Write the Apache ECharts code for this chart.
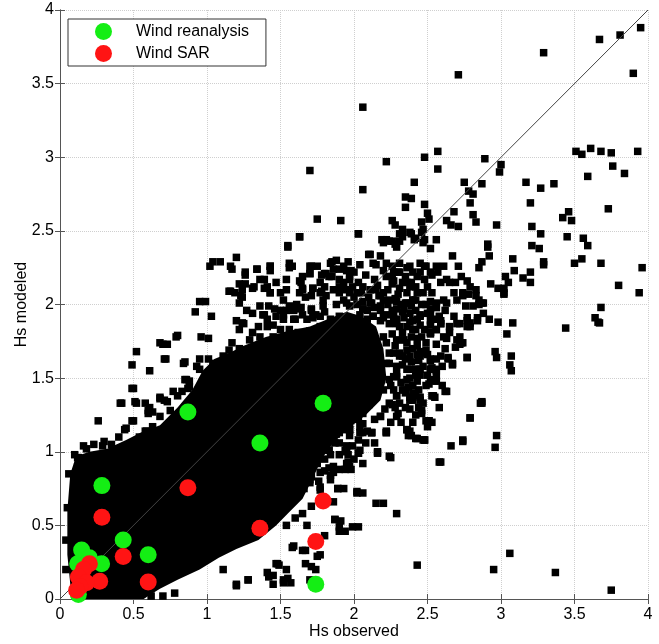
<!DOCTYPE html>
<html>
<head>
<meta charset="utf-8">
<script src="https://cdn.jsdelivr.net/npm/echarts@6/dist/echarts.min.js"></script>
<style>
  html, body { margin: 0; padding: 0; background: #fff; }
  #chart { width: 659px; height: 644px; }
</style>
</head>
<body>
<div id="chart"></div>
<script>
// axis range / ticks (Hs in m)
const axisMin = 0
const axisMax = 4
const tickStep = 0.5

// outline of the solid black core of the point cloud [Hs observed, Hs modeled]
const coreOutline = [
  [0.08, 0.0], [0.05, 0.3], [0.05, 0.6], [0.07, 0.85], [0.11, 0.97], [0.2, 1.0], [0.32, 1.02],
  [0.45, 1.08], [0.55, 1.13], [0.68, 1.18], [0.8, 1.3], [0.9, 1.42], [0.97, 1.55], [1.05, 1.63],
  [1.15, 1.67], [1.25, 1.72], [1.4, 1.78], [1.55, 1.82], [1.7, 1.85], [1.82, 1.9], [1.95, 1.95],
  [2.05, 1.92], [2.15, 1.85], [2.2, 1.7], [2.22, 1.5], [2.18, 1.35], [2.08, 1.25], [1.95, 1.15],
  [1.85, 1.05], [1.78, 0.95], [1.72, 0.82], [1.65, 0.68], [1.55, 0.58], [1.47, 0.5], [1.35, 0.4],
  [1.2, 0.34], [1.08, 0.28], [0.95, 0.2], [0.8, 0.13], [0.68, 0.07], [0.6, 0.02], [0.57, 0.0]
]

// scattered model/obs pairs outside the core
const outerPts = [
  [3.95, 3.88], [3.81, 3.83], [3.67, 3.80], [3.29, 3.71], [3.90, 3.57], [2.71, 3.56], [2.06, 3.34],
  [3.93, 3.04], [3.68, 3.04], [3.75, 3.03], [3.51, 3.04], [3.55, 3.02], [3.61, 3.06], [3.76, 2.94], [3.84, 2.89], [3.59, 2.87],
  [2.57, 3.04], [2.48, 3.00], [2.57, 2.92], [2.89, 2.99], [3.00, 2.95], [2.99, 2.90], [2.22, 2.97], [2.06, 2.78],
  [2.41, 2.83], [2.75, 2.83], [2.87, 2.82], [2.78, 2.77], [2.81, 2.75], [2.79, 2.69],
  [3.17, 2.83], [3.27, 2.79], [3.36, 2.82], [3.20, 2.69], [3.73, 2.65],
  [2.35, 2.73], [2.39, 2.72], [2.35, 2.66], [2.48, 2.68], [1.91, 2.57], [2.03, 2.48], [2.81, 2.61], [2.83, 2.56],
  [2.97, 2.54], [2.68, 2.63], [2.71, 2.53], [2.63, 2.57], [2.66, 2.54],
  [2.50, 2.62], [2.51, 2.58], [2.46, 2.56], [2.47, 2.51], [2.26, 2.57], [2.28, 2.54], [2.31, 2.48], [2.33, 2.51],
  [2.39, 2.48], [2.42, 2.45], [2.48, 2.44], [2.19, 2.44], [2.22, 2.44], [2.26, 2.43], [2.29, 2.39], [2.52, 2.38], [2.91, 2.41],
  [3.21, 2.53], [3.27, 2.48], [3.21, 2.40], [3.26, 2.38], [3.42, 2.59], [3.46, 2.63], [3.48, 2.57], [3.45, 2.46],
  [3.56, 2.45], [3.59, 2.40],
  [3.29, 2.29], [3.29, 2.27], [3.50, 2.28], [3.55, 2.31], [3.68, 2.28], [3.96, 2.25], [3.80, 2.13], [3.94, 2.08],
  [3.68, 1.98], [3.64, 1.91], [3.67, 1.875], [3.44, 1.84], [3.08, 1.875],
  [3.08, 2.31], [3.09, 2.23], [3.15, 2.18], [3.20, 2.22], [3.20, 2.15], [3.03, 2.19], [3.05, 2.15], [3.02, 2.11],
  [3.02, 2.08], [2.92, 2.33], [2.91, 2.39], [2.87, 2.29], [2.85, 2.25],
  [2.98, 1.88], [2.92, 1.90], [2.84, 1.91], [2.79, 1.875],
  [2.11, 2.34], [2.18, 2.33], [2.13, 2.28], [1.96, 2.29], [1.98, 2.23], [1.97, 2.17], [1.99, 2.12], [1.97, 2.08],
  [1.84, 2.28], [1.85, 2.19], [2.06, 2.02], [2.09, 1.96],
  [2.26, 2.26], [2.30, 2.22], [2.27, 2.16], [2.31, 2.11], [2.28, 2.04], [2.32, 2.00], [2.38, 2.12], [2.43, 2.08],
  [2.39, 1.99], [2.45, 1.93],
  [2.48, 2.26], [2.52, 2.22], [2.59, 2.15], [2.53, 2.08], [2.56, 2.01], [2.62, 1.96], [2.52, 1.94], [2.59, 1.89],
  [2.61, 2.26], [2.67, 2.33], [2.71, 2.26], [2.73, 2.19], [2.77, 2.16], [2.79, 2.12], [2.83, 2.10], [2.85, 2.03],
  [2.87, 2.01], [2.65, 2.15], [2.69, 2.15], [2.93, 2.14], [2.98, 2.11], [3.02, 2.07], [2.76, 1.99], [2.77, 1.91],
  [1.88, 2.30], [1.93, 2.26], [1.97, 2.19], [1.90, 2.12], [2.02, 2.08], [1.95, 2.01], [2.06, 1.97], [2.13, 1.92],
  [2.20, 2.03], [2.15, 2.10], [2.22, 2.19], [2.31, 2.28], [2.38, 2.26], [2.43, 2.19], [2.36, 2.15], [2.47, 2.08],
  [2.40, 2.03], [2.34, 1.97], [2.27, 1.90], [2.43, 1.90], [2.52, 1.97], [2.61, 2.03], [2.68, 2.08], [2.63, 2.17],
  [2.56, 2.26], [2.74, 2.08], [2.81, 1.99], [2.88, 1.94], [2.79, 1.85], [2.68, 1.92],
  [2.25, 1.45], [2.27, 1.42], [2.32, 1.47], [2.40, 1.45], [2.42, 1.52], [2.47, 1.58], [2.50, 1.52], [2.35, 1.63],
  [2.40, 1.70], [2.44, 1.62], [2.49, 1.69], [2.28, 1.72], [2.26, 1.80], [2.33, 1.81], [2.38, 1.88], [2.45, 1.86],
  [2.48, 1.83], [2.42, 1.96], [2.33, 1.95], [2.26, 1.96], [2.22, 1.93], [2.18, 1.96], [2.14, 1.98], [2.10, 2.05],
  [2.16, 2.13], [2.23, 2.10], [2.30, 2.07], [2.36, 2.08], [2.42, 2.12], [2.50, 2.12], [2.45, 2.22], [2.35, 2.19],
  [2.26, 2.19], [2.20, 2.23], [2.08, 2.20], [2.05, 2.08], [2.00, 2.05], [1.95, 2.10], [2.30, 1.26], [2.35, 1.30],
  [2.25, 1.20], [2.32, 1.20], [2.42, 1.25], [2.58, 1.30], [2.60, 1.45], [2.60, 1.58], [2.62, 1.70], [2.58, 1.92],
  // lower right
  [3.75, 0.06], [3.37, 0.18], [3.06, 0.31], [2.95, 0.20], [2.43, 0.23], [2.29, 0.58], [2.20, 0.65], [2.06, 0.72],
  [2.03, 0.49], [1.94, 0.46], [1.91, 0.53], [1.93, 0.75], [1.86, 0.66], [1.86, 0.86], [2.58, 0.93], [2.25, 0.96],
  [2.16, 0.99], [2.06, 0.92], [2.04, 1.01], [1.97, 0.90], [1.96, 0.98], [1.94, 1.01], [2.66, 1.04], [2.74, 1.07],
  [2.96, 1.03], [2.97, 1.11], [2.48, 1.08], [2.42, 1.09], [2.37, 1.11], [2.36, 1.15], [2.79, 1.23], [2.51, 1.21],
  [2.87, 1.34], [2.86, 1.33], [2.62, 1.41], [2.55, 1.37], [2.46, 1.28], [2.45, 1.37], [2.40, 1.35], [2.28, 1.30],
  [2.24, 1.33], [2.18, 1.24], [2.22, 1.13], [2.12, 1.13], [2.04, 1.13], [2.03, 1.08], [2.06, 1.19], [1.94, 1.19],
  [3.07, 1.65], [3.06, 1.59], [3.07, 1.55], [2.96, 1.68], [2.97, 1.64], [3.04, 1.80], [3.66, 1.88], [2.77, 1.64],
  [2.64, 1.63], [2.67, 1.60], [2.69, 1.71], [2.70, 1.76], [2.74, 1.74], [2.56, 1.55], [2.52, 1.56], [2.52, 1.49],
  [2.56, 1.48], [2.44, 1.56], [2.46, 1.67], [2.77, 1.89], [2.84, 1.89], [2.37, 1.44], [2.38, 1.37], [2.42, 1.38],
  [1.86, 1.87], [1.95, 1.89], [2.06, 1.87], [2.18, 1.89], [2.29, 1.87], [2.40, 1.89], [2.52, 1.86], [2.59, 1.87],
  [2.65, 1.85], [2.72, 1.87],
  [1.88, 1.76], [1.97, 1.78], [2.09, 1.76], [2.20, 1.78], [2.33, 1.76], [2.43, 1.77], [2.52, 1.81], [2.63, 1.77], [2.72, 1.73],
  [1.90, 1.65], [2.02, 1.67], [2.13, 1.65], [2.24, 1.67], [2.33, 1.65], [2.43, 1.66], [2.52, 1.63], [2.59, 1.65],
  [1.93, 1.53], [2.06, 1.56], [2.18, 1.53], [2.29, 1.51], [2.38, 1.56], [2.45, 1.52],
  [1.90, 1.42], [2.02, 1.44], [2.11, 1.40], [2.20, 1.42], [2.29, 1.38],
  [1.88, 1.31], [1.97, 1.33], [2.06, 1.26], [1.88, 1.17], [1.97, 1.15], [1.87, 1.06], [1.95, 1.04],
  [1.86, 1.22], [1.92, 1.27], [2.00, 1.30], [2.10, 1.32], [2.14, 1.22], [2.08, 1.06], [2.14, 1.06], [2.00, 0.95],
  [1.90, 0.98], [1.88, 1.12], [1.80, 0.95], [1.77, 0.86],
  // upper left
  [1.70, 2.91], [1.75, 2.58], [1.63, 2.46], [1.55, 2.39], [1.04, 2.29], [1.09, 2.29], [1.02, 2.26], [1.20, 2.32],
  [1.16, 2.26], [1.17, 2.24], [1.26, 2.20], [1.34, 2.24], [1.43, 2.26], [1.43, 2.23], [1.56, 2.28], [1.56, 2.25],
  [1.70, 2.26], [1.75, 2.26], [1.70, 2.21], [1.80, 2.21],
  [1.22, 2.14], [1.23, 2.06], [1.15, 2.09], [1.19, 2.08], [1.32, 2.12], [1.39, 2.17], [1.41, 2.12], [1.43, 2.08],
  [1.54, 2.10], [1.64, 2.15], [1.65, 2.10], [1.67, 2.05], [1.72, 2.11], [1.77, 2.08], [1.80, 2.12], [1.79, 2.03],
  [0.92, 1.95], [0.95, 2.02], [0.99, 2.02], [1.03, 1.92], [1.22, 2.01], [1.20, 1.89], [1.24, 1.875],
  [1.38, 1.93], [1.41, 1.90], [1.46, 1.97], [1.52, 1.93], [1.59, 1.96], [1.59, 1.90], [1.63, 1.97], [1.71, 1.96],
  [1.72, 1.91], [1.77, 1.92], [1.80, 1.95],
  [1.24, 2.10], [1.16, 2.09], [0.80, 1.79], [0.70, 1.73], [0.73, 1.73], [0.96, 1.78], [1.01, 1.77], [1.17, 1.74],
  [1.15, 1.69], [1.22, 1.70], [1.27, 1.69], [0.52, 1.68], [0.71, 1.63], [0.49, 1.59], [0.61, 1.55], [0.85, 1.61],
  [0.95, 1.63], [1.01, 1.63], [1.04, 1.60], [0.93, 1.58], [0.95, 1.56], [1.02, 1.53], [1.11, 1.65], [1.16, 1.63],
  [0.85, 1.49], [0.88, 1.48], [0.87, 1.43], [0.50, 1.43], [0.77, 1.41], [0.80, 1.38], [0.68, 1.37], [0.71, 1.35],
  [0.51, 1.34], [0.58, 1.33], [0.61, 1.30], [0.60, 1.26], [0.63, 1.27], [0.42, 1.33], [0.50, 1.21], [0.26, 1.21],
  [0.45, 1.16], [0.59, 1.14], [0.23, 1.05], [0.35, 1.05], [0.125, 0.96], [0.12, 0.90], [0.14, 0.86], [0.72, 1.63],
  [0.79, 1.78], [0.84, 1.60], [0.16, 1.04], [0.30, 1.07], [0.40, 1.10], [0.10, 0.98], [0.05, 0.62], [0.04, 0.40],
  [0.04, 0.20], [0.06, 0.85],
  [0.68, 1.74], [0.86, 1.49], [0.88, 1.44], [0.83, 1.41], [0.49, 1.43], [0.41, 1.33], [0.52, 1.33], [0.60, 1.28],
  [0.68, 1.36], [0.73, 1.34], [0.44, 1.15], [0.49, 1.21], [0.58, 1.14], [0.29, 1.04], [0.39, 1.01], [0.18, 1.02],
  [0.12, 0.96], [0.20, 0.94], [0.54, 1.10], [0.59, 1.06], [0.52, 1.04], [0.45, 1.01], [0.75, 1.28], [0.78, 1.23],
  [0.68, 1.24], [0.63, 1.17],
  // upper fringe of the core
  [1.63, 2.46], [2.03, 2.48], [1.55, 2.40],
  [1.26, 2.22], [1.34, 2.24], [1.43, 2.26], [1.39, 2.11], [1.43, 2.08], [1.26, 2.14], [1.31, 2.11], [1.24, 2.05],
  [1.58, 2.26], [1.71, 2.26], [1.85, 2.29], [1.86, 2.24], [1.70, 2.21], [1.78, 2.20], [1.83, 2.19], [1.90, 2.17],
  [1.95, 2.23], [2.00, 2.22], [2.04, 2.27], [2.10, 2.34], [2.15, 2.27], [2.22, 2.28],
  [2.20, 2.42], [2.24, 2.43], [2.28, 2.41], [2.31, 2.43], [2.33, 2.46], [2.38, 2.49], [2.41, 2.44], [2.46, 2.49],
  [2.47, 2.42], [2.56, 2.44],
  [2.27, 2.22], [2.31, 2.22], [2.36, 2.25], [2.40, 2.22], [2.45, 2.28], [2.49, 2.26], [2.53, 2.20], [2.57, 2.22],
  [2.48, 2.17], [2.39, 2.15], [2.33, 2.15], [2.26, 2.14],
  [1.54, 2.17], [1.63, 2.16], [1.65, 2.11], [1.63, 2.08], [1.72, 2.11], [1.71, 2.06], [1.78, 2.09], [1.81, 2.06],
  [1.86, 2.10], [1.90, 2.08], [2.03, 2.15], [2.06, 2.12], [2.11, 2.10], [2.14, 2.17], [2.17, 2.06], [2.20, 2.08],
  [1.52, 2.03], [1.56, 1.99], [1.54, 1.96], [1.61, 2.00], [1.64, 1.98], [1.65, 1.93], [1.71, 1.97], [1.74, 1.93],
  [1.60, 1.90], [1.68, 1.90],
  [1.42, 1.99], [1.39, 1.93], [1.47, 1.92], [1.45, 1.86], [1.41, 1.85], [1.50, 1.83], [1.56, 1.83], [1.62, 1.81], [1.70, 1.82],
  [1.22, 1.83], [1.25, 1.87], [1.31, 1.81], [1.35, 1.85], [1.29, 1.76],
  [1.27, 1.96], [1.31, 1.94], [1.36, 1.99], [1.50, 1.96], [1.52, 1.90], [1.45, 1.78], [1.36, 1.78], [1.56, 1.76],
  [1.68, 1.78], [1.77, 1.85], [1.84, 1.90], [1.50, 2.08], [1.47, 2.15], [1.36, 2.17], [1.65, 2.19], [1.77, 2.15],
  [1.81, 2.21], [1.90, 2.24], [1.93, 2.15],
  [1.79, 1.99], [1.88, 2.00], [1.93, 2.03], [1.97, 1.99], [2.02, 2.00], [2.06, 1.97], [2.12, 2.01], [2.18, 1.99],
  [2.23, 2.00], [2.29, 2.02], [2.35, 2.01], [2.40, 2.03], [2.46, 2.00], [2.52, 2.02], [2.56, 1.98],
  [1.90, 1.92], [1.97, 1.90], [2.04, 1.93], [2.09, 1.90], [2.13, 1.92], [2.20, 1.91], [2.27, 1.93], [2.34, 1.91],
  [2.38, 1.94], [2.45, 1.92], [2.50, 1.94], [2.54, 1.90],
  [2.31, 1.85], [2.40, 1.83], [2.46, 1.78], [2.52, 1.80], [2.56, 1.83], [2.29, 1.76], [2.36, 1.74], [2.43, 1.72],
  [2.49, 1.74], [2.56, 1.73], [2.31, 1.67], [2.38, 1.65], [2.45, 1.65], [2.52, 1.62], [2.56, 1.63],
  [2.22, 1.60], [2.29, 1.58], [2.36, 1.56], [2.45, 1.56], [2.53, 1.57], [2.56, 1.51], [2.27, 1.51], [2.36, 1.49],
  [2.43, 1.48], [2.49, 1.45], [2.54, 1.38], [2.40, 1.40], [2.34, 1.42], [2.47, 1.33], [2.31, 1.33], [2.38, 1.29],
  [2.46, 1.26], [2.53, 1.20], [2.50, 1.17], [2.40, 1.20], [2.29, 1.24],
  // right edge of the core
  [2.78, 2.07], [2.83, 2.06], [2.88, 2.01], [2.85, 2.00], [2.70, 1.87], [2.77, 1.85], [2.72, 1.78], [2.73, 1.74],
  [2.65, 1.81], [2.61, 1.78], [2.56, 1.83], [2.52, 1.81], [2.59, 1.87], [2.52, 1.89], [2.64, 1.64], [2.67, 1.59],
  [2.77, 1.64], [2.45, 1.68], [2.50, 1.66], [2.52, 1.56], [2.56, 1.56], [2.55, 1.48], [2.51, 1.46], [2.42, 1.56],
  [2.39, 1.61], [2.38, 1.50], [2.44, 1.42], [2.35, 1.40], [2.38, 1.35], [2.63, 1.41], [2.53, 1.38], [2.45, 1.35],
  [2.44, 1.30], [2.87, 1.33], [2.79, 1.23], [2.49, 1.21], [2.36, 1.15], [2.39, 1.11], [2.47, 1.08], [2.22, 1.14],
  [2.12, 1.13], [2.18, 1.24], [2.21, 1.29], [2.26, 1.32], [2.29, 1.38], [2.33, 1.42], [2.24, 1.49], [2.29, 1.53],
  [2.33, 1.59], [2.31, 1.65], [2.36, 1.69], [2.34, 1.76], [2.39, 1.78], [2.42, 1.83], [2.36, 1.85], [2.29, 1.97],
  [2.36, 2.01], [2.42, 2.03], [2.49, 2.00], [2.56, 1.98], [2.63, 2.01], [2.70, 2.03], [2.74, 2.06], [2.24, 2.03],
  [2.18, 2.06], [2.11, 2.01], [2.24, 1.87], [2.29, 1.90], [2.22, 1.74], [2.27, 1.67], [2.24, 1.60],
  [1.97, 1.19], [2.04, 1.17], [2.06, 1.13], [1.97, 1.11], [1.93, 1.15], [1.90, 1.06], [1.99, 1.04],
  [2.03, 1.22], [2.09, 1.14], [1.97, 1.15], [1.89, 1.17], [1.90, 1.13], [1.84, 1.10], [1.83, 1.01], [1.95, 1.00],
  [1.96, 0.93], [2.03, 0.99], [1.86, 0.90], [1.90, 0.88], [1.80, 0.87], [1.84, 0.81], [1.75, 0.92], [1.71, 0.83],
  [1.70, 0.79], [1.77, 0.76], [1.89, 0.75], [2.02, 0.73], [1.81, 0.67], [1.71, 0.63], [1.65, 0.58], [1.60, 0.55],
  [1.87, 0.54], [1.90, 0.49], [1.68, 0.50], [1.54, 0.50],
  // lower fringe of the core
  [0.62, 0.02], [0.70, 0.02], [0.78, 0.04], [1.11, 0.20], [1.20, 0.10], [1.28, 0.13], [1.42, 0.15], [1.45, 0.10],
  [1.49, 0.23], [1.52, 0.11], [1.54, 0.20],
  [2.51, 1.21], [2.38, 1.14], [2.43, 1.09], [2.48, 1.08], [2.74, 1.08], [2.59, 0.93], [2.24, 0.97], [2.16, 1.00],
  [2.22, 1.13], [2.12, 1.13], [2.03, 0.99], [1.83, 1.01], [1.84, 0.98], [2.02, 0.72], [2.15, 0.65], [1.89, 0.75],
  [1.87, 0.54], [1.99, 0.49], [1.90, 0.46], [1.80, 0.43], [1.77, 0.30], [1.65, 0.33], [1.58, 0.35], [1.67, 0.24],
  [1.74, 0.20], [1.47, 0.24], [1.45, 0.16], [1.52, 0.13], [1.57, 0.11], [1.70, 0.13], [1.83, 0.89], [1.84, 0.84],
  [1.76, 0.80], [1.70, 0.81], [1.77, 0.74], [1.66, 0.75], [1.95, 0.92], [1.94, 0.88], [1.98, 0.88],
  [1.59, 0.36], [1.67, 0.33], [1.48, 0.24], [1.41, 0.18], [1.28, 0.13], [1.20, 0.09], [1.55, 0.14], [1.71, 0.22], [1.75, 0.29]
]

// one-to-one reference line end points
const diagLine = [[0, 0], [4, 4]]

// case studies
const reanalysisPts = [
  [0.87, 1.27], [1.36, 1.06], [1.79, 1.33], [0.285, 0.77], [0.43, 0.40], [0.60, 0.30], [0.147, 0.333],
  [0.283, 0.24], [0.12, 0.24], [0.20, 0.28], [1.74, 0.10], [0.125, 0.03]
]
const sarPts = [
  [0.87, 0.755], [0.285, 0.555], [0.43, 0.288], [0.60, 0.115], [0.27, 0.12], [1.36, 0.48], [1.79, 0.665],
  [1.74, 0.39], [0.20, 0.24], [0.16, 0.20], [0.125, 0.15], [0.18, 0.11], [0.136, 0.085], [0.113, 0.06]
]

const fontFamily = 'Liberation Sans, Arial, sans-serif'
const chart = echarts.init(document.getElementById('chart'), null, { renderer: 'canvas' })

const hiddenAxis = {
  type: 'value', min: axisMin, max: axisMax, interval: tickStep,
  axisLine: { show: true, lineStyle: { color: '#555', width: 1 } },
  axisTick: { show: true, inside: true, length: 5, lineStyle: { color: '#555' } },
  axisLabel: { show: false },
  splitLine: { show: false }
}

chart.setOption({
  animation: false,
  backgroundColor: '#fff',
  grid: { left: 60, right: 11, top: 10, bottom: 45, show: false, containLabel: false, outerBoundsMode: 'none' },
  legend: {
    orient: 'vertical',
    left: 68,
    top: 19,
    padding: [4, 17, 4, 27],
    itemWidth: 17,
    itemHeight: 17,
    itemGap: 5,
    icon: 'circle',
    backgroundColor: '#fff',
    borderColor: '#333',
    borderWidth: 1,
    borderRadius: 0,
    data: ['Wind reanalysis', 'Wind SAR'],
    textStyle: { fontFamily, fontSize: 16, color: '#000', padding: [0, 0, 0, 19] }
  },
  xAxis: [
    {
      type: 'value', min: axisMin, max: axisMax, interval: tickStep,
      name: 'Hs observed', nameLocation: 'middle', nameGap: 25, nameMoveOverlap: false,
      nameTextStyle: { fontFamily, fontSize: 16, color: '#000' },
      axisLine: { show: true, onZero: false, lineStyle: { color: '#555', width: 1 } },
      axisTick: { show: true, inside: true, length: 5, lineStyle: { color: '#555' } },
      axisLabel: { fontFamily, fontSize: 16, color: '#000', margin: 8 },
      splitLine: { show: true, lineStyle: { color: '#cfcfcf', type: 'dotted', width: 1 } }
    },
    Object.assign({ position: 'top' }, hiddenAxis)
  ],
  yAxis: [
    {
      type: 'value', min: axisMin, max: axisMax, interval: tickStep,
      name: 'Hs modeled', nameLocation: 'middle', nameGap: 30, nameMoveOverlap: false,
      nameTextStyle: { fontFamily, fontSize: 16, color: '#000' },
      axisLine: { show: true, onZero: false, lineStyle: { color: '#555', width: 1 } },
      axisTick: { show: true, inside: true, length: 5, lineStyle: { color: '#555' } },
      axisLabel: { fontFamily, fontSize: 16, color: '#000', margin: 6 },
      splitLine: { show: true, lineStyle: { color: '#cfcfcf', type: 'dotted', width: 1 } }
    },
    Object.assign({ position: 'right' }, hiddenAxis)
  ],
  series: [
    {
      name: 'core',
      type: 'custom',
      silent: true,
      z: 1,
      data: [[0, 0]],
      renderItem: function (params, api) {
        const pts = coreOutline.map(p => api.coord(p))
        return { type: 'polygon', shape: { points: pts }, style: { fill: '#000' } }
      }
    },
    {
      name: 'obs',
      type: 'scatter',
      symbol: 'rect',
      symbolSize: 7.5,
      itemStyle: { color: '#000', opacity: 1 },
      silent: true,
      z: 2,
      data: outerPts
    },
    {
      name: '1:1',
      type: 'line',
      symbol: 'none',
      silent: true,
      z: 3,
      lineStyle: { color: '#444', width: 1 },
      data: diagLine
    },
    {
      name: 'Wind reanalysis',
      type: 'scatter',
      symbol: 'circle',
      symbolSize: 17,
      z: 4,
      itemStyle: { color: '#14ee14', opacity: 1 },
      data: reanalysisPts
    },
    {
      name: 'Wind SAR',
      type: 'scatter',
      symbol: 'circle',
      symbolSize: 17,
      z: 5,
      itemStyle: { color: '#ff1414', opacity: 1 },
      data: sarPts
    }
  ]
})
</script>
</body>
</html>
